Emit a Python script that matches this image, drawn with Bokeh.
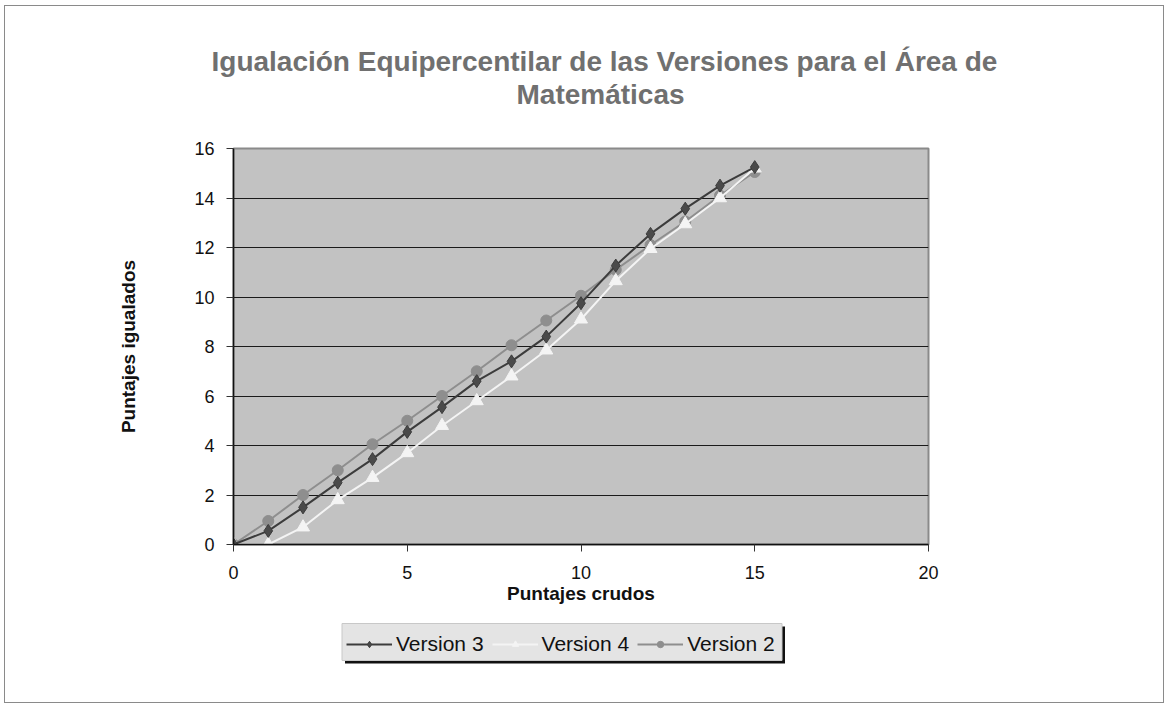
from bokeh.plotting import figure
from bokeh.layouts import column
from bokeh.models import Title, Legend, LegendItem, FixedTicker, Range1d
from bokeh.embed import file_html
from bokeh.resources import INLINE

# Data
raw_scores = [0, 1, 2, 3, 4, 5, 6, 7, 8, 9, 10, 11, 12, 13, 14, 15]
version3 = [0, 0.55, 1.5, 2.5, 3.45, 4.55, 5.55, 6.6, 7.4, 8.4, 9.75, 11.27, 12.55, 13.57, 14.5, 15.25]
version4 = [0, 0.0, 0.7, 1.8, 2.7, 3.7, 4.8, 5.8, 6.8, 7.85, 9.1, 10.65, 11.95, 12.95, 14.0, 15.2]
version2 = [0, 0.95, 2.0, 3.0, 4.05, 5.0, 6.0, 7.0, 8.05, 9.05, 10.05, 11.1, 12.1, 13.05, 14.1, 15.05]
series_names = ["Version 3", "Version 4", "Version 2"]
x_ticks = [0, 5, 10, 15, 20]
y_ticks = [0, 2, 4, 6, 8, 10, 12, 14, 16]

FONT = "Liberation Sans"
C3_LINE, C3_FILL = "#3c3c3c", "#4a4a4a"
C4 = "#f4f4f4"
C2 = "#8e8e8e"

# ---------------- main chart ----------------
p = figure(frame_width=695, frame_height=396, output_backend="svg", toolbar_location=None,
           x_range=Range1d(0, 20), y_range=Range1d(0, 16),
           min_border_left=228, min_border_right=235,
           min_border_top=142, min_border_bottom=64)

p.background_fill_color = "#c2c2c2"
p.border_fill_color = "white"
p.outline_line_color = "#8a8a8a"
p.outline_line_width = 2

# Titles: spacer nearest the frame, then line 2, then line 1
spacer = Title(text=" ", text_font_size="1px", standoff=36)
t2 = Title(text="Matemáticas", align="left", offset=283,
           text_font=FONT, text_font_size="28px", text_font_style="bold",
           text_color="#707070", standoff=0)
t1 = Title(text="Igualación  Equipercentilar de las Versiones para el Área de",
           align="left", offset=-22,
           text_font=FONT, text_font_size="28px", text_font_style="bold",
           text_color="#707070", standoff=0)
p.add_layout(spacer, "above")
p.add_layout(t2, "above")
p.add_layout(t1, "above")

p.xgrid.visible = False
p.ygrid.ticker = FixedTicker(ticks=y_ticks)
p.ygrid.grid_line_color = "#1a1a1a"
p.ygrid.grid_line_width = 1.2

p.xaxis.ticker = FixedTicker(ticks=x_ticks)
p.yaxis.ticker = FixedTicker(ticks=y_ticks)
for ax in (p.xaxis[0], p.yaxis[0]):
    ax.axis_line_color = "#111111"
    ax.axis_line_width = 1.5
    ax.major_tick_line_color = "#333333"
    ax.major_tick_in = 0
    ax.major_tick_out = 7
    ax.minor_tick_line_color = None
    ax.major_label_text_font = FONT
    ax.major_label_text_font_size = "18px"
    ax.major_label_text_color = "#111111"
    ax.axis_label_text_font = FONT
    ax.axis_label_text_font_size = "19px"
    ax.axis_label_text_font_style = "bold"
    ax.axis_label_text_color = "#111111"

p.xaxis.major_label_standoff = 14
p.xaxis.axis_label = "Puntajes crudos"
p.xaxis.axis_label_standoff = 1
p.yaxis.major_label_standoff = 12
p.yaxis.axis_label = "Puntajes igualados"
p.yaxis.axis_label_standoff = 52

p.line(raw_scores, version2, line_color=C2, line_width=2)
p.scatter(raw_scores, version2, marker="circle", size=11, fill_color=C2, line_color=C2)
p.line(raw_scores, version4, line_color=C4, line_width=2)
p.scatter(raw_scores, version4, marker="triangle", size=13, fill_color=C4, line_color=C4)
p.line(raw_scores, version3, line_color=C3_LINE, line_width=2)
p.scatter(raw_scores, version3, marker="diamond", size=13, fill_color=C3_FILL, line_color=C3_LINE)

# ---------------- legend strip ----------------
# The strip's frame is aligned with the chart frame (695 px wide); its
# x coordinates are "1000 + pixels from the frame's left edge", so the
# legend-only series renderers (drawn at x 0..15) stay out of view.
LW, LH = 1158, 94
OX = 1000
q = figure(width=LW, height=LH, output_backend="svg", toolbar_location=None,
           x_range=Range1d(OX, OX + 695), y_range=Range1d(0, LH),
           x_axis_type=None, y_axis_type=None,
           min_border_left=228, min_border_right=235, min_border_top=0, min_border_bottom=0)
q.grid.visible = False
q.outline_line_color = None
q.background_fill_color = "white"
q.border_fill_color = "white"

# legend box with drop shadow
q.quad(left=[OX + 111.5], right=[OX + 551.5], bottom=[39], top=[76],
       fill_color="#111111", line_color=None)
q.quad(left=[OX + 108.5], right=[OX + 548.5], bottom=[42], top=[79],
       fill_color="#e4e4e4", line_color="#c8c8c8", line_width=1)

l3 = q.line(raw_scores, version3, line_color=C3_LINE, line_width=2)
m3 = q.scatter(raw_scores, version3, marker="diamond", size=10, fill_color=C3_FILL, line_color=C3_LINE)
l4 = q.line(raw_scores, version4, line_color=C4, line_width=2)
m4 = q.scatter(raw_scores, version4, marker="triangle", size=10, fill_color=C4, line_color=C4)
l2 = q.line(raw_scores, version2, line_color=C2, line_width=2)
m2 = q.scatter(raw_scores, version2, marker="circle", size=10, fill_color=C2, line_color=C2)

legend = Legend(items=[
    LegendItem(label=series_names[0], renderers=[l3, m3]),
    LegendItem(label=series_names[1], renderers=[l4, m4]),
    LegendItem(label=series_names[2], renderers=[l2, m2]),
], location=(113, 46), orientation="horizontal")
legend.label_text_font = FONT
legend.label_text_font_size = "21px"
legend.label_text_color = "#111111"
legend.background_fill_alpha = 0
legend.border_line_color = None
legend.glyph_width = 46
legend.glyph_height = 16
legend.label_standoff = 4
legend.spacing = 8
legend.padding = 6
legend.margin = 0
q.add_layout(legend, "center")

layout = column(p, q, spacing=0)
layout.styles = {"border": "1.5px solid #8a8a8a",
                 "margin-left": "4px", "margin-top": "5px"}

open("out.html", "w").write(file_html(layout, INLINE))
